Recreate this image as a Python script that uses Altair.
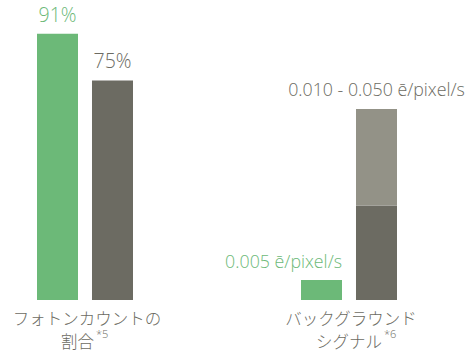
import altair as alt
import pandas as pd

# ---- data ----
group_keys = ["photon", "background"]
slot_keys = ["a", "b"]

bar_group = ["photon", "photon", "background", "background", "background"]
bar_slot = ["a", "b", "a", "b", "b"]
bar_tone = ["green", "dark", "green", "dark", "light"]
bar_height = [91, 75, 6.8, 32.3, 33.0]   # heights on the chart's common scale
bar_order = [0, 0, 0, 0, 1]

label_group = ["photon", "photon", "background", "background"]
label_slot = ["a", "b", "a", "b"]
label_tone = ["green", "dark", "green", "dark"]
label_text = ["91%", "75%", "0.005 ē/pixel/s", "0.010 - 0.050 ē/pixel/s"]

cat_line1 = ["フォトンカウントの", "バックグラウンド"]
cat_line2 = ["割合", "シグナル"]
cat_note = ["*5", "*6"]

tone_domain = ["green", "dark", "light"]
tone_range = ["#6cb978", "#6c6b62", "#939287"]

# ---- tables ----
bars = pd.DataFrame({"group": bar_group, "slot": bar_slot, "tone": bar_tone,
                     "height": bar_height, "order": bar_order})
tops = bars.groupby(["group", "slot"], as_index=False)["height"].sum()
labels = pd.DataFrame({"group": label_group, "slot": label_slot,
                       "tone": label_tone, "text": label_text})
labels = labels.merge(tops, on=["group", "slot"])
cats = pd.DataFrame({"group": group_keys, "line1": cat_line1,
                     "line2": cat_line2, "note": cat_note})

FONT = "Open Sans, Noto Sans CJK JP"
TEXT_GRAY = "#6c6b62"
W = 300

x_scale = alt.Scale(domain=group_keys, paddingInner=0.58333, paddingOuter=0.11364)
xo_scale = alt.Scale(domain=slot_keys, paddingInner=0.2545, paddingOuter=0.12727)
y_scale = alt.Scale(domain=[0, 102.5], nice=False, zero=True)
c_scale = alt.Scale(domain=tone_domain, range=tone_range)

X = alt.X("group:N", scale=x_scale, axis=None)
XO = alt.XOffset("slot:N", scale=xo_scale)

bar_layer = alt.Chart(bars).mark_bar().encode(
    x=X, xOffset=XO,
    y=alt.Y("height:Q", stack="zero", scale=y_scale, axis=None),
    color=alt.Color("tone:N", scale=c_scale, legend=None),
    order=alt.Order("order:Q"),
)

pct = alt.Chart(labels).transform_filter(alt.datum.group == "photon").mark_text(
    font=FONT, fontSize=19.5, fontWeight=W, baseline="alphabetic", align="center", dy=-12
).encode(
    x=X, xOffset=XO,
    y=alt.Y("height:Q", scale=y_scale, axis=None),
    text="text:N",
    color=alt.Color("tone:N", scale=c_scale, legend=None),
)

val_a = alt.Chart(labels).transform_filter(
    (alt.datum.group == "background") & (alt.datum.slot == "a")
).mark_text(
    font=FONT, fontSize=17.8, fontWeight=W, baseline="alphabetic", align="right", dx=20.5, dy=-12
).encode(
    x=X, xOffset=XO,
    y=alt.Y("height:Q", scale=y_scale, axis=None),
    text="text:N",
    color=alt.Color("tone:N", scale=c_scale, legend=None),
)

val_b = alt.Chart(labels).transform_filter(
    (alt.datum.group == "background") & (alt.datum.slot == "b")
).mark_text(
    font=FONT, fontSize=17.8, fontWeight=W, baseline="alphabetic", align="center", dy=-13
).encode(
    x=X, xOffset=XO,
    y=alt.Y("height:Q", scale=y_scale, axis=None),
    text="text:N",
    color=alt.Color("tone:N", scale=c_scale, legend=None),
)

line1 = alt.Chart(cats).mark_text(
    font=FONT, fontSize=16.5, fontWeight=W, baseline="middle", align="center",
    color=TEXT_GRAY, dx=2
).encode(x=X, y=alt.value(320), text="line1:N")

layers = [bar_layer, pct, val_a, val_b, line1]

line2_dx = {"photon": 9, "background": 33}
for g in group_keys:
    sub = alt.Chart(cats).transform_filter(alt.datum.group == g)
    layers.append(sub.mark_text(
        font=FONT, fontSize=16.5, fontWeight=W, baseline="middle", align="right",
        color=TEXT_GRAY, dx=line2_dx[g]
    ).encode(x=X, y=alt.value(342.5), text="line2:N"))
    layers.append(sub.mark_text(
        font=FONT, fontSize=11, fontWeight=W, baseline="middle", align="left",
        color=TEXT_GRAY, dx=line2_dx[g] + 2
    ).encode(x=X, y=alt.value(334.5), text="note:N"))

chart = alt.layer(*layers).properties(
    width=434, height=300,
    autosize=alt.AutoSizeParams(type="none"),
    padding={"left": 0, "top": 0, "right": 40, "bottom": 51},
).configure_view(stroke=None)

chart.save("out.html", embed_options={"renderer": "svg", "actions": False})
